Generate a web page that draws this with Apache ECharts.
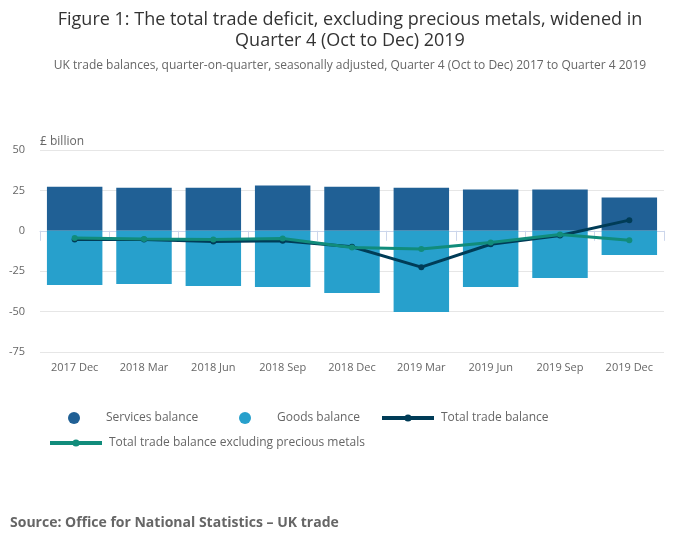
<!DOCTYPE html>
<html>
<head>
<meta charset="utf-8">
<script src="https://cdn.jsdelivr.net/npm/echarts@6/dist/echarts.min.js"></script>
<style>
  html, body { margin: 0; padding: 0; background: #fff; }
  #chart { width: 700px; height: 549px; }
</style>
</head>
<body>
<div id="chart"></div>
<script>
const quarters = ["2017 Dec", "2018 Mar", "2018 Jun", "2018 Sep", "2018 Dec", "2019 Mar", "2019 Jun", "2019 Sep", "2019 Dec"];
const servicesBalance = [27.3, 26.7, 26.7, 28.0, 27.3, 26.7, 25.5, 25.5, 20.6];
const goodsBalance = [-33.6, -32.9, -34.2, -34.8, -38.5, -50.2, -34.8, -29.2, -15.0];
const totalBalance = [-5.4, -5.4, -6.6, -6.2, -9.9, -22.5, -8.3, -2.9, 6.6];
const totalExclPrecious = [-4.5, -5.0, -5.4, -4.7, -10.3, -11.3, -7.2, -2.3, -5.8];

const font = "'Open Sans', sans-serif";
const chart = echarts.init(document.getElementById("chart"));

// one legend per entry so each can sit where the original puts it
function legendItem(name, left, top, isDot) {
  return {
    left: left,
    top: top,
    padding: 0,
    itemWidth: isDot ? 12 : 52,
    itemHeight: isDot ? 12 : 9,
    itemGap: 0,
    lineStyle: isDot ? undefined : { width: 4 },
    textStyle: {
      fontFamily: font,
      fontSize: 12,
      color: "#666",
      padding: isDot ? [0, 0, 0, 21] : [0, 0, 0, 2],
    },
    data: [isDot ? { name: name, icon: "circle" } : name],
  };
}

const option = {
  animation: false,
  textStyle: { fontFamily: font },
  title: [
    {
      text: "Figure 1: The total trade deficit, excluding precious metals, widened in",
      left: "center",
      top: 6,
      textStyle: { fontFamily: font, fontSize: 18, fontWeight: "normal", color: "#333" },
    },
    {
      text: "Quarter 4 (Oct to Dec) 2019",
      left: "center",
      top: 27,
      textStyle: { fontFamily: font, fontSize: 18, fontWeight: "normal", color: "#333" },
    },
    {
      text: "UK trade balances, quarter-on-quarter, seasonally adjusted, Quarter 4 (Oct to Dec) 2017 to Quarter 4 2019",
      left: "center",
      top: 55,
      textStyle: { fontFamily: font, fontSize: 12, fontWeight: "normal", color: "#666" },
    },
    {
      text: "Source: Office for National Statistics – UK trade",
      left: 5,
      top: 511,
      textStyle: { fontFamily: font, fontSize: 14, fontWeight: "bold", color: "#666" },
    },
  ],
  graphic: [
    {
      type: "text",
      left: 40,
      top: 136,
      style: { text: "£ billion", font: "12px " + font, fill: "#666" },
    },
  ],
  legend: [
    legendItem("Services balance", 68, 412, true),
    legendItem("Goods balance", 239, 412, true),
    legendItem("Total trade balance", 380, 412, false),
    legendItem("Total trade balance excluding precious metals", 48, 437, false),
  ],
  grid: { left: 40, right: 36, top: 150, bottom: 197 },
  xAxis: {
    type: "category",
    data: quarters,
    axisLine: { lineStyle: { color: "#ccd6eb" } },
    axisTick: { show: true, length: 10, lineStyle: { color: "#ccd6eb" } },
    axisLabel: { color: "#666", fontSize: 11, margin: 10, interval: 0 },
  },
  yAxis: {
    type: "value",
    min: -75,
    max: 50,
    interval: 25,
    axisLine: { show: false },
    axisTick: { show: false },
    axisLabel: { color: "#666", fontSize: 11, margin: 15 },
    splitLine: { lineStyle: { color: "#e6e6e6" } },
  },
  series: [
    {
      name: "Services balance",
      type: "bar",
      data: servicesBalance,
      barCategoryGap: "20%",
      barGap: "-100%",
      itemStyle: { color: "#206095" },
    },
    {
      name: "Goods balance",
      type: "bar",
      data: goodsBalance,
      barCategoryGap: "20%",
      barGap: "-100%",
      itemStyle: { color: "#27a0cc" },
    },
    {
      name: "Total trade balance",
      type: "line",
      data: totalBalance,
      symbol: "circle",
      symbolSize: 6,
      z: 3,
      lineStyle: { color: "#003c57", width: 3 },
      itemStyle: { color: "#003c57" },
    },
    {
      name: "Total trade balance excluding precious metals",
      type: "line",
      data: totalExclPrecious,
      symbol: "circle",
      symbolSize: 6,
      z: 4,
      lineStyle: { color: "#118c7b", width: 3 },
      itemStyle: { color: "#118c7b" },
    },
  ],
};

chart.setOption(option);
</script>
</body>
</html>
